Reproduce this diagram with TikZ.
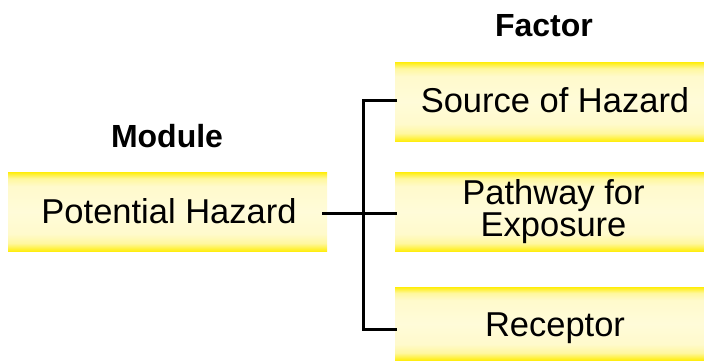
\documentclass[tikz,border=0pt]{standalone}
\usepackage{fontspec}
\setmainfont{Liberation Sans}
\usetikzlibrary{positioning}

% pale yellow bar, saturated along the top and bottom edges
\pgfdeclareverticalshading{yellowbar}{100bp}{%
  rgb(0bp)=(1,0.93,0.05);
  rgb(25bp)=(1,0.93,0.05);
  rgb(30bp)=(1,0.97,0.62);
  rgb(36bp)=(1,0.98,0.80);
  rgb(50bp)=(1,0.985,0.85);
  rgb(66bp)=(1,0.98,0.80);
  rgb(71bp)=(1,0.97,0.62);
  rgb(75bp)=(1,0.93,0.05);
  rgb(100bp)=(1,0.93,0.05)}

\tikzset{
  bar/.style={draw=none, shading=yellowbar, inner sep=0pt, anchor=north west},
  boxtext/.style={font=\fontsize{34.5}{32.4}\selectfont, anchor=base, inner sep=0pt, align=center},
  heading/.style={font=\bfseries\fontsize{32}{36}\selectfont, anchor=base, inner sep=0pt},
  link/.style={line width=3pt, black}
}

\begin{document}
\begin{tikzpicture}[x=1pt, y=-1pt]
  \useasboundingbox (0,0) rectangle (704,360);

  % bars
  \node[bar, minimum width=319pt, minimum height=79pt] (ph)  at (8,172)   {};
  \node[bar, minimum width=309pt, minimum height=79pt] (src) at (395,62)  {};
  \node[bar, minimum width=309pt, minimum height=79pt] (pw)  at (395,172) {};
  \node[bar, minimum width=309pt, minimum height=73pt] (rec) at (395,287) {};

  % headings
  \node[heading] (module) at (167,147.3) {Module};
  \node[heading] (factor) at (544,36.7) {Factor};

  % labels (base of a two-line label is its last line)
  \node[boxtext] (phl)  at (169,223)   {Potential Hazard};
  \node[boxtext] (srcl) at (555,112)   {Source of Hazard};
  \node[boxtext] (pwl)  at (553.5,236.7) {Pathway for\\Exposure};
  \node[boxtext] (recl) at (555,336.7) {Receptor};

  % connectors
  \coordinate (j)    at (363,213);
  \coordinate (jtop) at (363,100.5);
  \coordinate (jbot) at (363,329);
  \draw[link] ([xshift=-5pt]ph.east |- j) -- (j) -- ([xshift=2pt]pw.west |- j);
  \draw[link] ([xshift=2pt]src.west |- jtop) -- (jtop) -- (jbot) -- ([xshift=2pt]rec.west |- jbot);
\end{tikzpicture}
\end{document}
